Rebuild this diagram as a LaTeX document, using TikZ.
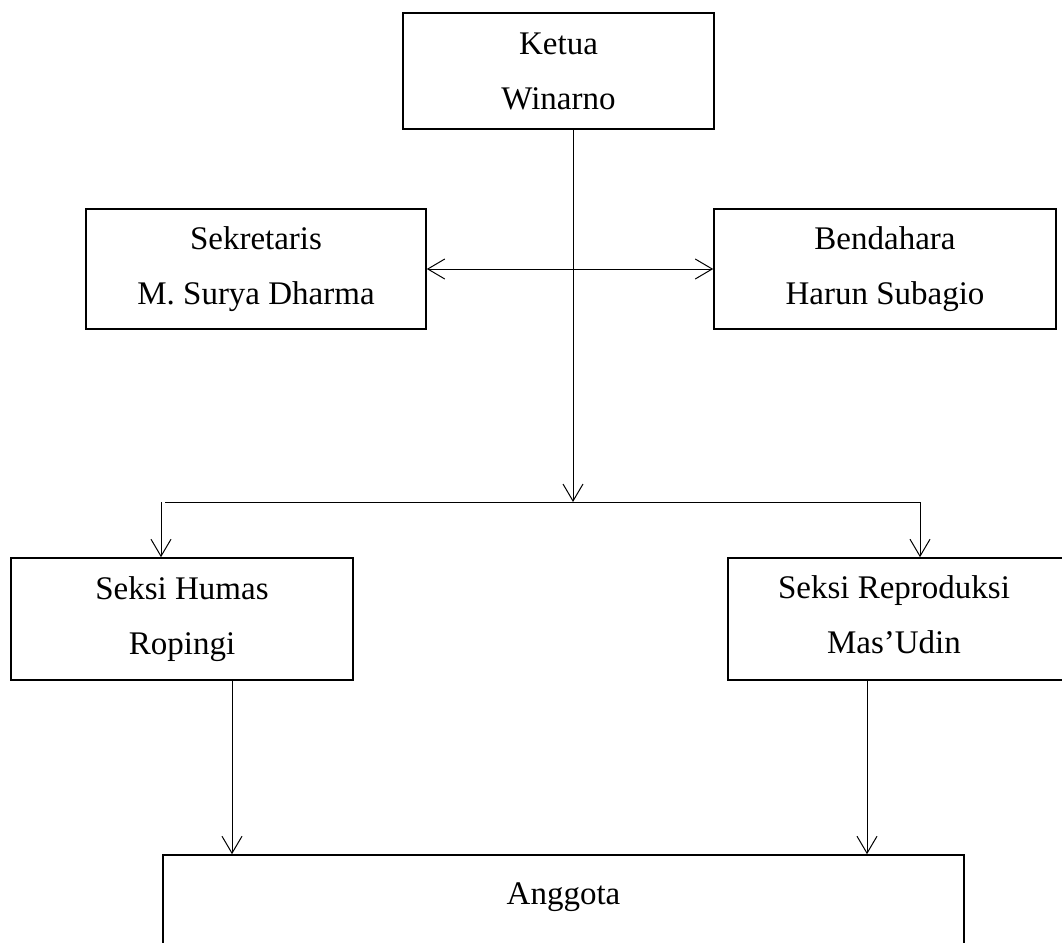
\documentclass[tikz,border=0pt]{standalone}
\usepackage{fontspec}
\setmainfont{Liberation Serif}
\usetikzlibrary{arrows.meta}
\begin{document}
\begin{tikzpicture}[x=1pt,y=-1pt,
  box/.style={draw, line width=1.6pt, rectangle, inner sep=0pt, align=center,
    font=\fontsize{33}{55}\selectfont},
  txt/.style={inner sep=0pt, align=center, font=\fontsize{33}{55}\selectfont},
  conn/.style={line width=1pt},
  arr/.style={line width=1pt, -{Straight Barb[length=17pt,width=20pt,line width=1pt]}},
  darr/.style={line width=1pt, {Straight Barb[length=17pt,width=20pt,line width=1pt]}-{Straight Barb[length=17pt,width=20pt,line width=1pt]}}]
\useasboundingbox (0,0) rectangle (1062,942);
\node[box, minimum width=311pt, minimum height=116pt] (ketua) at (558.5,71) {Ketua\\Winarno};
\node[box, minimum width=340pt, minimum height=120pt] (sek) at (256,269) {Sekretaris\\M. Surya Dharma};
\node[box, minimum width=342pt, minimum height=120pt] (ben) at (885,269) {Bendahara\\Harun Subagio};
\node[box, minimum width=342pt, minimum height=122pt] (humas) at (182,619) {Seksi Humas\\Ropingi};
\node[box, minimum width=344pt, minimum height=122pt] (repro) at (900,619) {};
\node[txt] (reprot) at (894,615) {Seksi Reproduksi\\Mas'Udin};
\node[box, minimum width=801pt, minimum height=150pt] (ang) at (563.5,930) {};
\node[txt] (angt) at (563.5,897) {Anggota};
\coordinate (j) at (573,502);
\coordinate (hl) at (161,502);
\coordinate (hr) at (920,502);
\draw[arr] (ketua.south -| j) -- (j);
\draw[darr] (sek.east) -- (ben.west);
\draw[conn] (165,502) -- (hr);
\draw[arr] (hl) -- (hl |- humas.north);
\draw[arr] (hr) -- (hr |- repro.north);
\draw[arr] (humas.south -| 232,0) -- (ang.north -| 232,0);
\draw[arr] (repro.south -| 867,0) -- (ang.north -| 867,0);
\end{tikzpicture}
\end{document}
